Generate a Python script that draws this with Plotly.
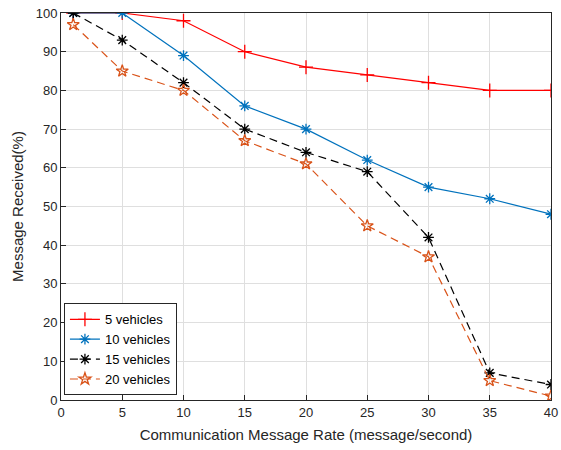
import plotly.graph_objects as go

rate = [1, 5, 10, 15, 20, 25, 30, 35, 40]
veh5 = [100, 100, 98, 90, 86, 84, 82, 80, 80]
veh10 = [100, 100, 89, 76, 70, 62, 55, 52, 48]
veh15 = [100, 93, 82, 70, 64, 59, 42, 7, 4]
veh20 = [97, 85, 80, 67, 61, 45, 37, 5, 1]

x_ticks = list(range(0, 45, 5))
y_ticks = list(range(0, 110, 10))

series = [
    ("5 vehicles", veh5, "#FF0000", "solid", "cross-thin", 10),
    ("10 vehicles", veh10, "#0072BD", "solid", "asterisk-open", 9),
    ("15 vehicles", veh15, "#000000", "8px,5px", "asterisk-open", 9),
    ("20 vehicles", veh20, "#D95319", "8px,5px", "star-open", 9),
]

fig = go.Figure()
for name, vals, color, dash, sym, size in series:
    fig.add_trace(go.Scatter(
        x=rate, y=vals, name=name, mode="lines+markers",
        line=dict(color=color, width=1.2, dash=dash),
        marker=dict(symbol=sym, size=size, color=color,
                    line=dict(color=color, width=1.3)),
    ))

axis_common = dict(
    showline=True, linecolor="#262626", linewidth=1, mirror=True,
    showgrid=True, gridcolor="#DFDFDF", gridwidth=1,
    ticks="inside", ticklen=5, tickcolor="#262626",
    tickfont=dict(family="Liberation Sans, Arial", size=13, color="#262626"),
    ticklabeloverflow="allow",
    zeroline=False, automargin=False,
)

fig.update_layout(
    width=561, height=450,
    margin=dict(l=61, r=10, t=13, b=50),
    paper_bgcolor="white", plot_bgcolor="white",
    font=dict(family="Liberation Sans, Arial", color="#262626"),
    xaxis=dict(range=[0, 40], tickvals=x_ticks,
               title=dict(text="Communication Message Rate (message/second)",
                          font=dict(size=15, color="#262626"), standoff=10),
               **axis_common),
    yaxis=dict(range=[0, 100], tickvals=y_ticks,
               title=dict(text="Message Received(%)",
                          font=dict(size=15, color="#262626"), standoff=8),
               **axis_common),
    legend=dict(x=0.006, y=0.012, xanchor="left", yanchor="bottom",
                bgcolor="white", bordercolor="#262626", borderwidth=1,
                font=dict(size=13, color="#000000"),
                tracegroupgap=0, itemwidth=30),
    showlegend=True,
)

fig.write_html("out.html")
